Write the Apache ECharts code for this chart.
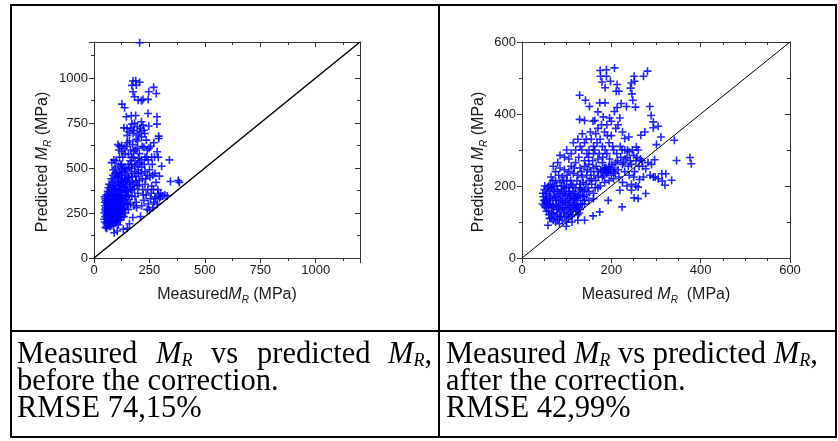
<!DOCTYPE html>
<html><head><meta charset="utf-8">
<script src="https://cdn.jsdelivr.net/npm/echarts@6/dist/echarts.min.js"></script>
<style>html,body{margin:0;padding:0;background:#fff}#c{width:838px;height:441px}</style>
</head><body><div id="c"></div>
<script>
// ---- Data: measured vs predicted M_R (MPa) ----
const beforeData = [
[206,1196],[176,983],[188,985],[206,976],[171,959],[191,961],[176,924],[183,896],[199,877],[214,874],[221,881],[247,924],[269,948],[281,914],[244,881],[126,855],[138,835],[146,785],[168,790],[188,792],[244,803],[284,785],[284,744],[135,723],[149,720],[171,744],[183,748],[214,757],[221,738],[247,733],[158,701],[176,692],[199,683],[229,692],[214,673],[236,655],[292,677],[292,664],
[108,630],[115,620],[125,625],[135,610],[150,640],[165,600],[180,590],[195,610],[205,580],[225,615],[240,600],[255,620],[270,640],[285,590],[290,560],[305,510],[340,545],[260,560],[245,545],[230,560],[215,545],[200,555],[185,540],[170,560],[155,575],[140,580],[125,590],[115,560],[100,540],[90,545],[80,530],[95,500],[110,510],[125,520],[140,500],[155,520],[170,500],[185,510],[200,490],[215,505],[230,480],[250,490],[265,460],[275,470],[295,455],[280,420],[300,360],[320,350],[330,345],[345,425],[380,430],[385,420],
[48,200],[50,230],[52,260],[50,290],[53,320],[55,350],[48,340],[50,270],[55,190],[52,170],
[58,165],[60,180],[62,200],[65,215],[60,240],[63,260],[66,280],[60,300],[64,320],[67,345],[62,370],[65,390],[68,410],[58,310],[70,230],[68,190],[66,250],
[72,175],[75,190],[78,205],[73,220],[80,235],[76,250],[82,270],[74,290],[79,305],[83,330],[77,350],[81,370],[75,400],[84,420],[78,440],[85,460],[80,210],[72,260],
[88,180],[92,195],[86,215],[95,230],[90,245],[97,260],[88,285],[94,300],[90,320],[98,340],[92,360],[96,385],[89,405],[93,430],[99,450],[95,470],[87,490],[91,140],[100,215],
[103,200],[108,215],[105,230],[112,250],[102,270],[110,290],[106,310],[113,330],[104,350],[109,375],[114,400],[107,420],[111,445],[103,470],[115,480],[105,150],[110,185],
[118,210],[125,225],[120,245],[128,265],[117,285],[124,305],[121,330],[129,350],[119,370],[126,395],[122,420],[130,440],[117,460],[127,490],[132,160],
[135,230],[142,250],[138,275],[145,295],[133,320],[148,340],[140,365],[136,390],[146,410],[139,435],[144,460],[150,165],[148,490],[134,500],
[155,270],[165,300],[158,325],[170,345],[153,370],[162,395],[172,420],[157,445],[168,470],[160,190],[175,225],[174,380],
[180,290],[190,310],[185,340],[198,360],[182,385],[195,405],[205,430],[188,455],[200,470],[210,230],[192,280],
[215,290],[225,320],[235,350],[220,380],[245,300],[240,270],[250,265],[230,410],[255,330],[260,400],[218,440],[240,460],
[270,310],[275,330],[290,350],[300,340],[310,345],[265,280],[285,300],
[46,215],[47,250],[49,310],[51,330],[54,280],[56,240],[57,300],[59,220],[61,270],[63,330],[64,180],[67,300],[69,360],[71,200],[71,320],[73,380],[74,240],[76,280],[77,320],[79,180],[81,290],[82,250],[83,390],[84,200],[86,330],[87,260],[89,350],[91,210],[91,280],[93,250],[94,380],[96,320],[97,200],[99,290],[100,400],[101,250],[102,330],[104,280],[106,240],[107,360],[108,300],[109,450],[111,210],[112,380],[113,270],[114,340],[116,230],[117,410],[118,310],[119,260],[121,350],[122,280],[123,470],[124,240],[126,330],[127,430],[128,300],[131,380],[132,270],[134,420],[137,310],[139,480],[141,340],[143,400],[147,370],[149,430],[151,300],[154,450],[156,350],[159,500],[161,420],[163,540],[166,380],[169,520],[173,450],[177,560],[179,410],[183,480],[187,600],[191,430],[194,520],[197,650],[203,400],[207,530],[212,470],[217,620],[222,350],[227,520],[233,440],[238,560],[243,380],[248,610],[253,450],[258,360],[263,520],[268,380],[273,560],[278,340],[288,380],[295,330],[120,520],[130,560],[112,600],[145,620],[160,650],[175,630],[190,660],[205,700],[150,680],[165,720],[180,710],[195,730],[210,720],[225,710]
];
const afterData = [
[175,521],[189,523],[207,528],[176,505],[189,505],[179,489],[198,491],[186,473],[213,482],[211,463],[217,463],[245,486],[251,505],[252,491],[272,505],[281,519],[243,472],[246,456],[248,438],[254,419],[234,421],[222,429],[213,418],[207,407],[219,389],[196,389],[182,392],[170,406],[174,431],[186,431],[151,421],[142,438],[129,452],[129,385],[140,382],[163,382],[286,421],[289,396],[294,378],[294,362],[301,315],[311,336],[341,327],[305,366],[275,350],[266,341],[239,336],[230,332],[256,308],
[297,273],[290,260],[277,248],[294,225],[305,220],[313,234],[322,234],[314,214],[320,202],[335,216],[346,271],[376,279],[379,262],[277,179],[260,165],[251,167],[260,197],[263,218],[245,188],[224,142],[219,188],[193,160],[174,128],[159,117],[140,105],[125,105],[112,100],[99,88],[58,91],
[85,285],[95,280],[105,275],[100,300],[110,290],[120,300],[115,320],[125,330],[135,345],[130,310],[140,320],[145,290],[150,300],[160,310],[155,330],[165,345],[170,360],[175,330],[185,350],[180,310],[190,290],[195,320],[200,340],[205,300],[210,360],[215,370],[225,350],[220,310],[230,300],[235,280],[240,295],[250,285],[255,270],[245,260],[260,300],[265,275],[270,255],[200,380],[190,370],[160,290],[140,270],[120,265],[110,255],[130,250],[150,260],[170,275],[180,265],[185,245],[195,255],[205,240],[210,265],[225,260],[230,240],[240,230],[250,225],[215,245],[200,230],[190,235],[180,225],[170,240],[160,250],[175,200],[185,210],[195,215],[205,220],[225,210],[235,200],[245,205],[255,200],[165,215],[155,220],[145,230],[135,225],[125,230],[115,235],[105,240],[95,245],[85,250],[75,240],[70,255],[80,265],[90,225],[100,215],[110,205],[120,195],[130,205],[140,190],[150,185],[160,180],[170,195],[150,160],[140,150],[160,165],[130,175],[120,170],[115,185],[105,195],[95,200],[85,210],[75,215],[65,225],[60,200],[55,180],[50,190],[48,170],[52,160],[50,145],[55,130],[60,120],[65,110],[70,105],[75,100],[80,108],[85,115],[90,105],[95,115],[100,120],[105,125],[110,130],[115,135],[120,140],[125,145],[130,135],[135,150],[140,160],[58,150],[62,165],[66,140],[70,125],[72,175],[76,160],[78,135],[82,145],[86,170],[88,130],[92,155],[96,140],[98,175],[102,160],[106,145],[108,170],[112,155],[116,165],[118,150],[122,160],[126,175],[128,125],[132,190],[136,170],[145,175],[68,190],[73,200],[64,205],[88,190],[92,185],[104,180],[55,165],[60,140],[80,185],[84,95],[100,100],[70,145],[110,115],[125,120],
[46,150],[47,180],[49,160],[51,200],[53,140],[54,175],[56,155],[57,195],[59,130],[61,185],[62,110],[63,150],[64,170],[66,195],[67,125],[68,160],[69,215],[71,140],[72,185],[74,115],[75,170],[77,150],[78,200],[79,120],[81,165],[82,230],[83,135],[84,180],[86,150],[87,115],[89,200],[90,160],[91,140],[93,215],[94,125],[95,175],[97,155],[99,195],[100,135],[101,230],[103,150],[104,110],[106,185],[107,165],[108,140],[109,215],[111,175],[113,120],[114,200],[116,145],[117,250],[119,180],[121,130],[123,215],[124,165],[126,140],[127,280],[129,195],[131,150],[133,240],[134,300],[136,185],[137,210],[139,170],[141,255],[143,205],[144,330],[146,245],[148,195],[149,280],[151,215],[153,350],[154,240],[156,205],[158,270],[159,380],[161,230],[163,300],[164,195],[166,255],[168,320],[171,225],[173,290],[176,245],[178,370],[181,280],[183,230],[186,300],[188,250],[191,340],[193,240],[196,275],[198,245],[201,260],[203,310],[206,250],[209,235],[212,290],[214,270],[217,225],[221,280],[224,300],[227,265],[231,275],[236,300],[238,255],[242,270],[247,300],[252,240],[257,280],[262,255],[268,270],[272,225],[282,265],[287,230],[298,225],[178,240],[188,240],[194,245],[184,250]
];
const range1 = [0, 1200];
const range2 = [0, 600];
const tickStep1 = 250;
const tickStep2 = 200;
const xTitle1 = 'Measured{m|M}{r|R} (MPa)';
const xTitle2 = 'Measured {m|M}{r|R}  (MPa)';
const yTitle = 'Predicted {m|M}{r|R} (MPa)';
const captionLeft = ['before the correction.', 'RMSE 74,15%'];
const captionRight = ['Measured {i|M}{s|R} vs predicted {i|M}{s|R},', 'after the correction.', 'RMSE 42,99%'];

const chart = echarts.init(document.getElementById('c'), null, {renderer: 'canvas'});
const sans = 'Liberation Sans, Arial, sans-serif';
const serif = 'Liberation Serif, Times New Roman, serif';
const axisColor = '#333';
const txtColor = '#1a1a1a';
const nameRich = {
  m: {fontStyle: 'italic', fontSize: 16, fontFamily: sans, color: txtColor, lineHeight: 20},
  r: {fontStyle: 'italic', fontSize: 10, fontFamily: sans, color: txtColor, lineHeight: 10, verticalAlign: 'bottom'}
};
const plus = 'path://M4,0H6V4H10V6H6V10H4V6H0V4H4Z';

function common(grid, range, step, minorSplit, inside) {
  return {
    gridIndex: grid, type: 'value', min: range[0], max: range[1], interval: step,
    axisLine: {show: true, onZero: false, lineStyle: {color: axisColor, width: 1}},
    axisTick: {show: true, inside: inside, length: 5, lineStyle: {color: axisColor}},
    minorTick: {show: true, splitNumber: minorSplit, length: 3, lineStyle: {color: axisColor}},
    splitLine: {show: false}
  };
}
function xAx(grid, range, step, minorSplit, name) {
  const a = common(grid, range, step, minorSplit, false);
  Object.assign(a, {position: 'bottom',
    axisLabel: {fontSize: 13, fontFamily: sans, color: txtColor, margin: 6, formatter: v => String(v), showMaxLabel: range[1] % step === 0},
    name: name, nameLocation: 'middle', nameGap: 27,
    nameTextStyle: {fontSize: 16, fontFamily: sans, color: txtColor, rich: nameRich}});
  const b = common(grid, range, step, minorSplit, true);
  Object.assign(b, {position: 'top', axisLabel: {show: false}});
  return [a, b];
}
function yAx(grid, range, step, minorSplit, gap) {
  const a = common(grid, range, step, minorSplit, false);
  Object.assign(a, {position: 'left',
    axisLabel: {fontSize: 13, fontFamily: sans, color: txtColor, margin: 6, formatter: v => String(v), showMaxLabel: range[1] % step === 0},
    name: yTitle, nameLocation: 'middle', nameGap: gap, nameRotate: 90,
    nameTextStyle: {fontSize: 16, fontFamily: sans, color: txtColor, rich: nameRich, padding: [0, 24, 0, 0]}});
  const b = common(grid, range, step, minorSplit, true);
  Object.assign(b, {position: 'right', axisLabel: {show: false}});
  return [a, b];
}

const capSize = 30.5;
const capRich = {
  i: {fontStyle: 'italic', fontSize: capSize, fontFamily: serif, lineHeight: 30},
  s: {fontStyle: 'italic', fontSize: 18, fontFamily: serif, lineHeight: 18, verticalAlign: 'bottom'}
};
function capText(x, y, text, align) {
  return {type: 'text', x: x, y: y, z: 10,
    style: {text: text, fill: '#000', fontSize: capSize, fontFamily: serif, align: align || 'left', verticalAlign: 'middle', lineHeight: 30, rich: capRich}};
}
const line1L = [['Measured', 17, 'left'], ['{i|M}{s|R}', 156, 'left'], ['vs', 211, 'left'], ['predicted', 257, 'left'], ['{i|M}{s|R},', 432, 'right']];
const graphics = [
  {type: 'rect', shape: {x: 11, y: 5, width: 825, height: 432}, style: {fill: 'none', stroke: '#000', lineWidth: 2}, z: 10},
  {type: 'line', shape: {x1: 439, y1: 5, x2: 439, y2: 437}, style: {stroke: '#000', lineWidth: 2}, z: 10},
  {type: 'line', shape: {x1: 11, y1: 331, x2: 836, y2: 331}, style: {stroke: '#000', lineWidth: 2}, z: 10}
];
line1L.forEach(p => graphics.push(capText(p[1], 355, p[0], p[2])));
graphics.push(capText(17, 382, captionLeft[0]));
graphics.push(capText(17, 409, captionLeft[1]));
graphics.push(capText(446, 355, captionRight[0]));
graphics.push(capText(446, 382, captionRight[1]));
graphics.push(capText(446, 409, captionRight[2]));

const x1 = xAx(0, range1, tickStep1, 2, xTitle1);
const x2 = xAx(1, range2, tickStep2, 4, xTitle2);
const y1 = yAx(0, range1, tickStep1, 2, 41);
const y2 = yAx(1, range2, tickStep2, 2, 33);

const option = {
  animation: false,
  backgroundColor: '#fff',
  grid: [
    {left: 94, top: 42, width: 266, height: 216},
    {left: 522, top: 42, width: 268, height: 216}
  ],
  xAxis: [x1[0], x1[1], x2[0], x2[1]],
  yAxis: [y1[0], y1[1], y2[0], y2[1]],
  series: [
    {type: 'line', xAxisIndex: 0, yAxisIndex: 0, data: [[range1[0], range1[0]], [range1[1], range1[1]]], symbol: 'none', lineStyle: {color: '#000', width: 1.5}, z: 3},
    {type: 'scatter', xAxisIndex: 0, yAxisIndex: 0, data: beforeData, symbol: plus, symbolSize: 8, itemStyle: {color: '#0000ff', opacity: 0.85}, z: 2},
    {type: 'line', xAxisIndex: 2, yAxisIndex: 2, data: [[range2[0], range2[0]], [range2[1], range2[1]]], symbol: 'none', lineStyle: {color: '#000', width: 1}, z: 3},
    {type: 'scatter', xAxisIndex: 2, yAxisIndex: 2, data: afterData, symbol: plus, symbolSize: 8, itemStyle: {color: '#0000ff', opacity: 0.85}, z: 2}
  ],
  graphic: graphics
};
chart.setOption(option);
</script></body></html>
